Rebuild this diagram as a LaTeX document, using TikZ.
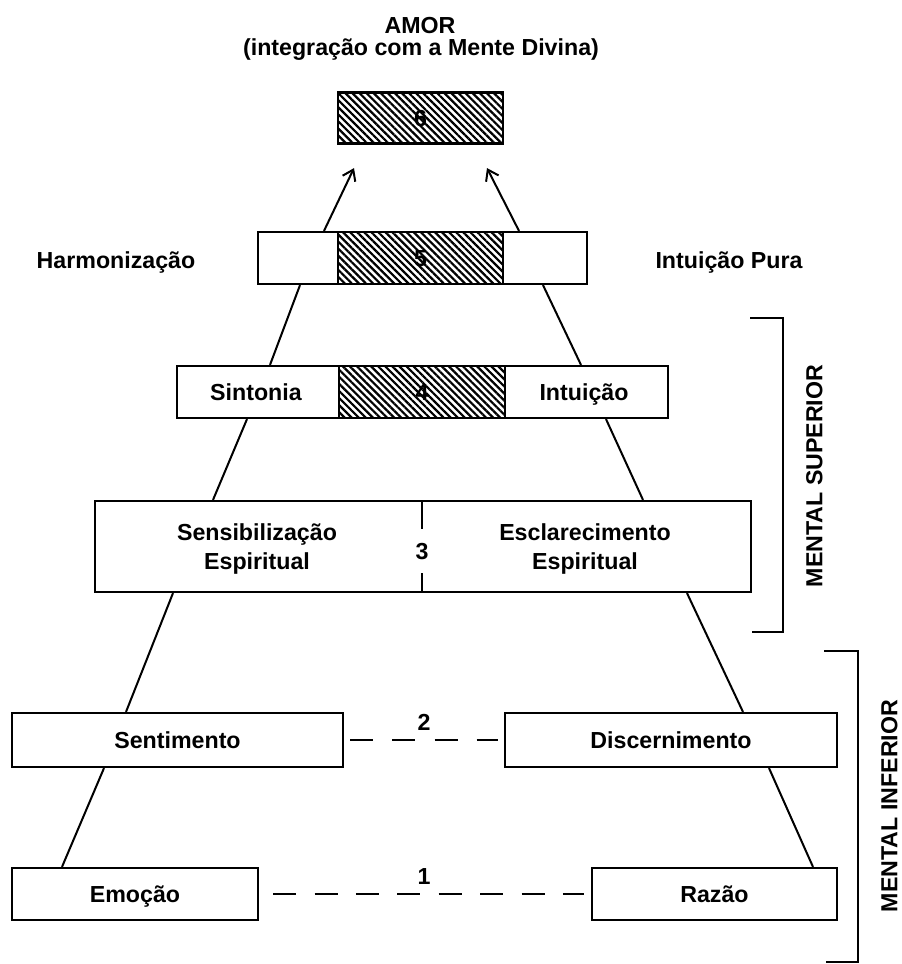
\documentclass[tikz,border=0pt]{standalone}
\usepackage{fontspec}
\setmainfont{Liberation Sans}
\usetikzlibrary{calc,arrows.meta,patterns.meta}
\begin{document}
\begin{tikzpicture}[x=0.5pt,y=-0.5pt,
  txt/.style={font=\bfseries\fontsize{11.6}{14.5}\selectfont, inner sep=0pt,
     text height=8.3pt, text depth=0pt},
  box/.style={draw, line width=1.1pt, inner sep=0pt, txt},
  hatch/.style={draw, line width=1.1pt, inner sep=0pt, txt,
     pattern={Lines[angle=-45,distance=2.5pt,line width=1.1pt]}},
  conn/.style={line width=1pt},
  dashconn/.style={line width=1.1pt},
  arr/.style={line width=1pt, -{Straight Barb[length=5pt,width=7pt,line width=1pt]}},
  brk/.style={line width=1.1pt}
]
\fill[white] (0,0) rectangle (901,964);
\useasboundingbox (0,0) rectangle (901,964);

% titles
\node[txt] (amor) at (420,25.5) {AMOR};
\node[txt] (integ) at (421,47) {(integração com a Mente Divina)};

% level 6
\node[hatch, minimum width=82.5pt, minimum height=25.5pt] (t6) at (420.5,118) {6};

% level 5
\node[box, minimum width=164.5pt, minimum height=26pt] (l5) at (422.5,258) {};
\node[hatch, minimum width=82.5pt, minimum height=26pt] (h5) at (420.5,258) {5};
\node[txt] (harm) at (116,260) {Harmonização};
\node[txt] (intp) at (729,260) {Intuição Pura};

% level 4
\node[box, minimum width=245.5pt, minimum height=26pt] (l4) at (422.5,392) {};
\node[hatch, minimum width=83pt, minimum height=26pt] (h4) at (422,392) {4};
\node[txt] (sint) at (256,392) {Sintonia};
\node[txt] (intu) at (584,392) {Intuição};

% level 3
\node[box, minimum width=328pt, minimum height=45.5pt] (l3) at (423,546.5) {};
\node[txt] (sensa) at (257,532) {Sensibilização};
\node[txt] (sensb) at (257,561) {Espiritual};
\node[txt] (escla) at (585,532) {Esclarecimento};
\node[txt] (esclb) at (585,561) {Espiritual};
\node[txt, minimum height=22pt] (n3) at (422,551) {3};
\draw[conn] (n3.north) -- (n3.north |- l3.north);
\draw[conn] (n3.south) -- (n3.south |- l3.south);

% level 2
\node[box, minimum width=165.5pt, minimum height=27pt] (s2) at (177.5,740) {Sentimento};
\node[box, minimum width=166pt, minimum height=27pt] (d2) at (671,740) {Discernimento};
\node[txt] (n2) at (424,722) {2};

% level 1
\node[box, minimum width=123pt, minimum height=26pt] (e1) at (135,894) {Emoção};
\node[box, minimum width=122.5pt, minimum height=26pt] (r1) at (714.5,894) {Razão};
\node[txt] (n1) at (424,876) {1};

% arrows to top
\coordinate (aL) at ($(t6.south)+(-66.5,23.5)$);
\coordinate (aR) at ($(t6.south)+(66.5,23.5)$);
\draw[arr] ($(l5.north)+(-98.5,0)$) -- (aL);
\draw[arr] ($(l5.north)+(96.5,0)$) -- (aR);

% pyramid sides
\draw[conn] ($(l5.south)+(-122.5,0)$) -- ($(l4.north)+(-152.5,0)$);
\draw[conn] ($(l5.south)+(120.5,0)$) -- ($(l4.north)+(158.5,0)$);
\draw[conn] ($(l4.south)+(-175.5,0)$) -- ($(l3.north)+(-210,0)$);
\draw[conn] ($(l4.south)+(183.5,0)$) -- ($(l3.north)+(220,0)$);
\draw[conn] ($(l3.south)+(-250,0)$) -- ($(s2.north)+(-51.5,0)$);
\draw[conn] ($(l3.south)+(264,0)$) -- ($(d2.north)+(72,0)$);
\draw[conn] ($(s2.south)+(-73.5,0)$) -- ($(e1.north)+(-73,0)$);
\draw[conn] ($(d2.south)+(98,0)$) -- ($(r1.north)+(98.5,0)$);

% dashed links
\draw[dashconn, dash pattern=on 11.5pt off 9.6pt] ($(s2.east)+(6,0)$) -- ($(d2.west)+(-6,0)$);
\draw[dashconn, dash pattern=on 11.5pt off 9.2pt] ($(e1.east)+(14,0)$) -- ($(r1.west)+(-7,0)$);

% brackets
\draw[brk] (750,318) -- (783,318) -- (783,632) -- (752,632);
\draw[brk] (824,651) -- (858,651) -- (858,962) -- (826,962);
\node[txt, rotate=90] (msup) at (814,476) {MENTAL SUPERIOR};
\node[txt, rotate=90] (minf) at (889,806) {MENTAL INFERIOR};
\end{tikzpicture}
\end{document}
